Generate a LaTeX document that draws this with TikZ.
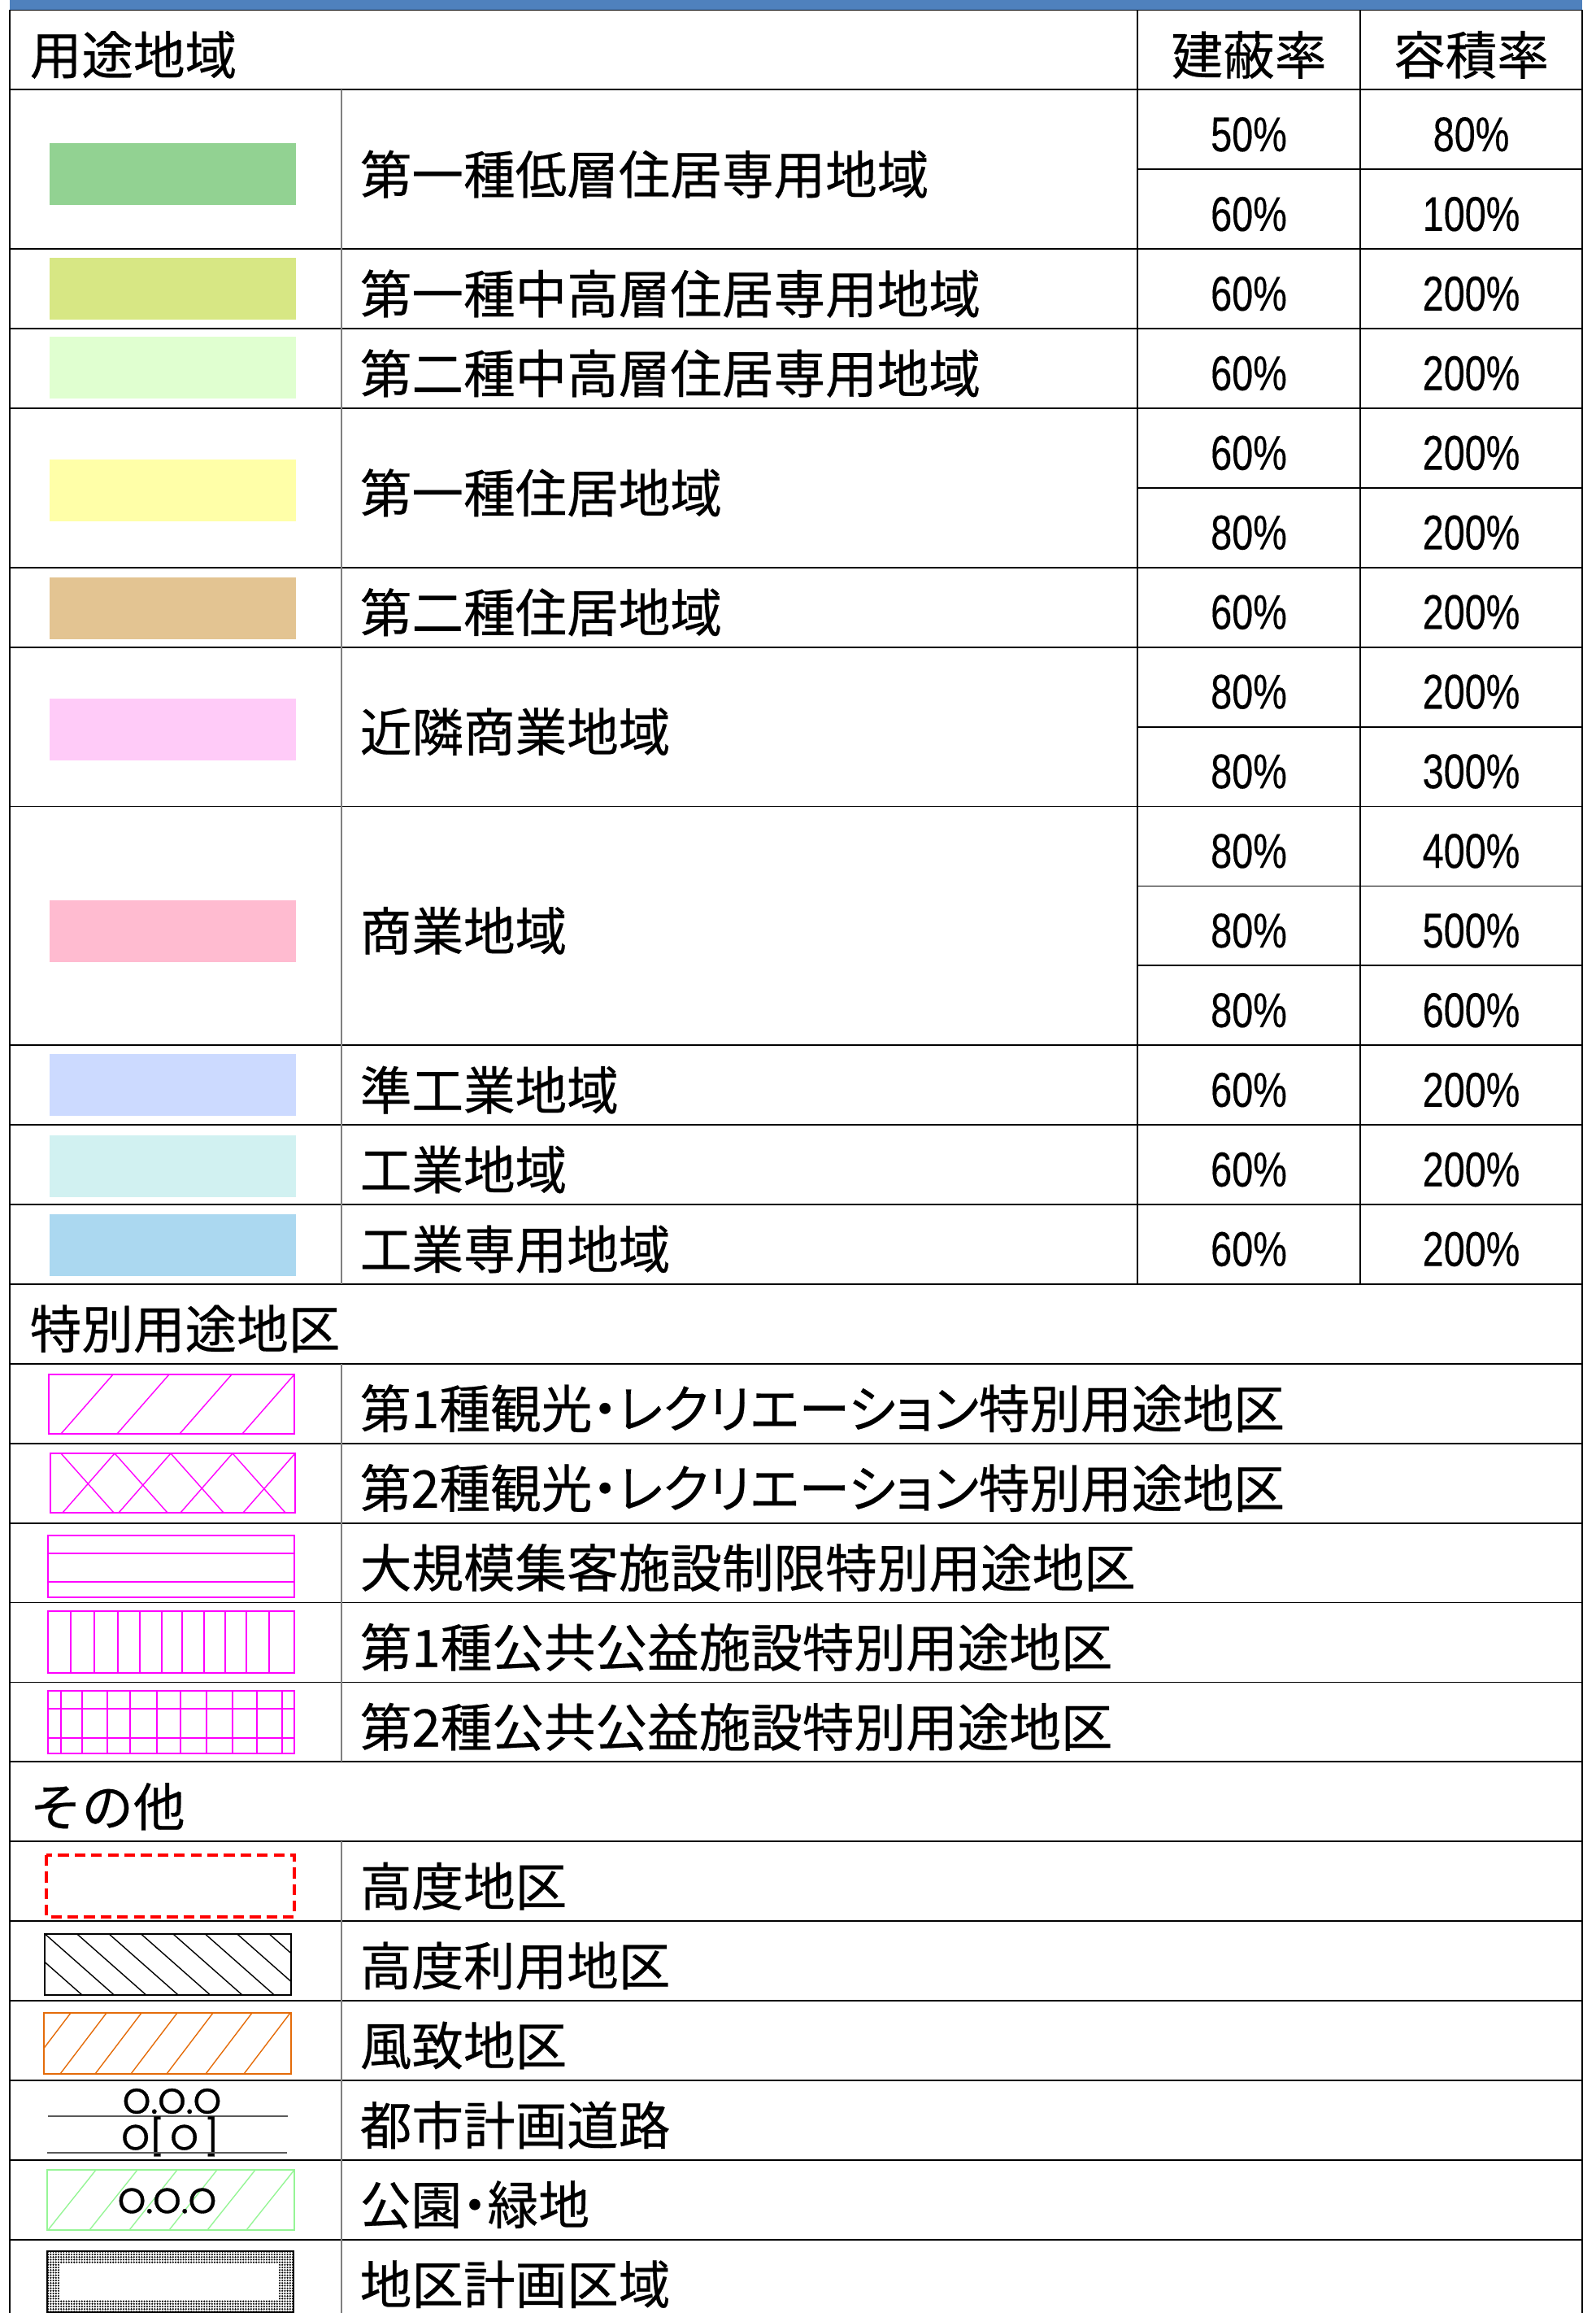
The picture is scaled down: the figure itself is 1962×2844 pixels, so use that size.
\documentclass[tikz,border=0pt]{standalone}
\usepackage{fontspec}
\setmainfont{Noto Sans CJK JP}[FakeBold=0.4]
\newfontfamily\jpprop{Noto Sans CJK JP}[RawFeature=+palt, FakeBold=0.4, FakeStretch=0.986]
\newfontfamily\numfont{Liberation Sans}[FakeStretch=0.78, FakeBold=0.3]
\newfontfamily\roadfont{Poppins}[FakeBold=0.8]
\usetikzlibrary{patterns}

% swatch colours
\definecolor{hdrblue}{RGB}{79,129,189}
\definecolor{lowres}{RGB}{146,210,146}
\definecolor{midresA}{RGB}{215,231,132}
\definecolor{midresB}{RGB}{224,255,208}
\definecolor{resA}{RGB}{255,255,168}
\definecolor{resB}{RGB}{227,196,146}
\definecolor{nbcom}{RGB}{255,203,248}
\definecolor{com}{RGB}{255,187,208}
\definecolor{semiind}{RGB}{204,218,255}
\definecolor{ind}{RGB}{209,241,241}
\definecolor{indonly}{RGB}{171,216,240}
\definecolor{spmag}{RGB}{255,0,255}
\definecolor{fuchi}{RGB}{228,108,10}
\definecolor{parkgreen}{RGB}{150,245,150}
\definecolor{roadgray}{RGB}{90,90,90}

\pgfdeclarepatternformonly{stipple}{\pgfpoint{-0.1pt}{-0.1pt}}{\pgfpoint{0.9pt}{0.9pt}}{\pgfpoint{0.8pt}{0.8pt}}{%
  \pgfpathcircle{\pgfpoint{0.4pt}{0.4pt}}{0.3pt}\pgfusepath{fill}}

\tikzset{
  gridline/.style={line width=0.45pt},
  jptext/.style={inner sep=0pt, font=\fontsize{15.9pt}{18pt}\selectfont},
  zonename/.style={jptext, anchor=west},
  ratetext/.style={inner sep=0pt, font=\numfont\fontsize{15pt}{18pt}\selectfont},
  hatch/.style={line width=0.35pt},
  roadmark/.style={inner sep=0pt, font=\roadfont\fontsize{10.9pt}{12pt}\selectfont},
}

\begin{document}
\begin{tikzpicture}[x=0.25pt, y=-0.25pt,
    declare function={ry(\k)=12.5+97.9*\k; ty(\k)=18.5+97.9*\k;}]
    \useasboundingbox (0,0) rectangle (1962,2844);
    \clip (0,0) rectangle (1962,2844);

    % top bar
    \fill[hdrblue] (12,0) rectangle (1946,{ry(0)});

    % zone swatches
    \foreach \top/\col in {176/lowres, 317/midresA, 414/midresB, 565/resA, 710/resB,
        859/nbcom, 1107/com, 1296/semiind, 1396/ind, 1493/indonly}
      \fill[\col] (61,\top) rectangle (364,{\top+76});

    % special use district swatches
    \draw[hatch, spmag] (60,1690) rectangle (362,1763);
    \foreach \b in {75,144,221,298}
      \draw[hatch, spmag] (\b,1763) -- ({\b+64},1690);
    \draw[hatch, spmag] (62,1787) rectangle (363,1860);
    \foreach \b in {77,146,222,299}
      \draw[hatch, spmag] (\b,1860) -- ({\b+64},1787);
    \foreach \t in {75,141,210,286}
      \draw[hatch, spmag] (\t,1787) -- ({\t+65},1860);
    \draw[hatch, spmag] (59,1888) rectangle (362,1964);
    \foreach \y in {1910,1945}
      \draw[hatch, spmag] (59,\y) -- (362,\y);
    \draw[hatch, spmag] (59,1981) rectangle (362,2057);
    \foreach \x in {87,116,145,172,199,224,251,277,303,331}
      \draw[hatch, spmag] (\x,1981) -- (\x,2057);
    \draw[hatch, spmag] (59,2079) rectangle (362,2156);
    \foreach \y in {2101,2137}
      \draw[hatch, spmag] (59,\y) -- (362,\y);
    \foreach \x in {75,101,132,160,193,222,254,286,316,347}
      \draw[hatch, spmag] (\x,2079) -- (\x,2156);

    % other swatches
    \draw[red, line width=1pt, dash pattern=on 3.3pt off 1.8pt] (57,2281) rectangle (362,2357);
    \begin{scope}
      \clip (55,2378) rectangle (358,2453);
      \foreach \k in {0,...,8}
        \draw[hatch] ({16+39.4*\k},2378) -- ({101+39.4*\k},2453);
    \end{scope}
    \draw[line width=0.55pt] (55,2378) rectangle (358,2453);
    \begin{scope}
      \clip (54,2475) rectangle (358,2550);
      \foreach \b in {30,74,117,161,205,253,300}
        \draw[hatch, fuchi] (\b,2550) -- ({\b+57},2475);
    \end{scope}
    \draw[line width=0.5pt, fuchi] (54,2475) rectangle (358,2550);
    \node[roadmark] (roadA) at (211.5,2583.5) {O.O.O};
    \draw[hatch, roadgray] (59,2602) -- (354,2602);
    \node[roadmark] (roadB) at (209.5,2627) {O[\,O\,]};
    \draw[hatch, roadgray] (58,2647) -- (353,2647);
    \begin{scope}
      \clip (58,2668) rectangle (362,2742);
      \foreach \b in {59,110,159,208,255,303}
        \draw[hatch, parkgreen] (\b,2742) -- ({\b+59},2668);
    \end{scope}
    \draw[line width=0.45pt, parkgreen] (58,2668) rectangle (362,2742);
    \node[roadmark] (park) at (205.5,2706) {O.O.O};
    \fill[pattern=stipple] (58,2768) rectangle (361,2843);
    \fill[white] (73,2783) rectangle (343,2828);
    \draw[line width=0.3pt] (58,2768) rectangle (361,2843);

    % draw horizontal lines
    \foreach \k in {0,1,3,4,5,7,8,10,13,14,...,28}
      \draw[gridline] (12,{ry(\k)}) -- (1946,{ry(\k)});
    \foreach \k in {2,6,9,11,12}
      \draw[gridline] (1399,{ry(\k)}) -- (1946,{ry(\k)});

    % draw vertical lines
    \draw[gridline] (12,{ry(0)}) -- (12,2844);
    \draw[gridline] (1946,{ry(0)}) -- (1946,2844);
    \draw[gridline, gray] (420,{ry(1)}) -- (420,{ry(16)});
    \draw[gridline, gray] (420,{ry(17)}) -- (420,{ry(22)});
    \draw[gridline, gray] (420,{ry(23)}) -- (420,2844);
    \foreach \x in {1399,1673}
      \draw[gridline] (\x,{ry(0)}) -- (\x,{ry(16)});

    % headings
    \node[zonename] (hdzone) at (36,{ty(0.5)}) {用途地域};
    \node[jptext] (hdcover) at (1536,{ty(0.5)}) {建蔽率};
    \node[jptext] (hdfloor) at (1809.5,{ty(0.5)}) {容積率};
    \node[zonename] (hdspecial) at (36,{ty(16.5)}) {特別用途地区};
    \node[zonename] (hdother) at (36,{ty(22.5)}) {その他};

    % zone names
    \foreach \k/\txt [count=\i] in {2/第一種低層住居専用地域, 3.5/第一種中高層住居専用地域,
        4.5/第二種中高層住居専用地域, 6/第一種住居地域, 7.5/第二種住居地域,
        9/近隣商業地域, 11.5/商業地域, 13.5/準工業地域, 14.5/工業地域, 15.5/工業専用地域}
      \node[zonename] (zone\i) at (442,{ty(\k)}) {\txt};

    % ratios
    \foreach \k/\bc/\fa in {1/50/80, 2/60/100, 3/60/200, 4/60/200, 5/60/200, 6/80/200,
        7/60/200, 8/80/200, 9/80/300, 10/80/400, 11/80/500, 12/80/600,
        13/60/200, 14/60/200, 15/60/200} {
      \node[ratetext] (bc\k) at (1536,{ty(\k+0.5)}) {\bc\%};
      \node[ratetext] (fa\k) at (1809.5,{ty(\k+0.5)}) {\fa\%};
    }

    % special use districts
    \node[zonename] (spA) at (442,{ty(17.5)}) {\jpprop 第1種観光・レクリエーション特別用途地区};
    \node[zonename] (spB) at (442,{ty(18.5)}) {\jpprop 第2種観光・レクリエーション特別用途地区};
    \node[zonename] (spC) at (442,{ty(19.5)}) {大規模集客施設制限特別用途地区};
    \node[zonename] (spD) at (442,{ty(20.5)}) {第1種公共公益施設特別用途地区};
    \node[zonename] (spE) at (442,{ty(21.5)}) {第2種公共公益施設特別用途地区};

    % others
    \node[zonename] (otA) at (442,{ty(23.5)}) {高度地区};
    \node[zonename] (otB) at (442,{ty(24.5)}) {高度利用地区};
    \node[zonename] (otC) at (442,{ty(25.5)}) {風致地区};
    \node[zonename] (otD) at (442,{ty(26.5)}) {都市計画道路};
    \node[zonename] (otE) at (442,{ty(27.5)}) {\jpprop 公園・緑地};
    \node[zonename] (otF) at (442,{ty(28.5)}) {地区計画区域};
  \end{tikzpicture}
\end{document}
